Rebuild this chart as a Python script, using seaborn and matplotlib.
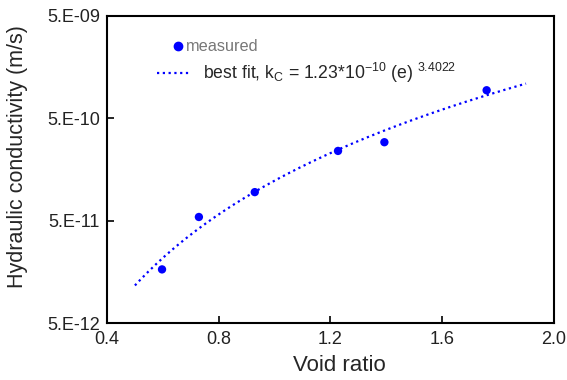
import numpy as np
import pandas as pd
import matplotlib
matplotlib.use("Agg")
import matplotlib.pyplot as plt
import seaborn as sns
from matplotlib.lines import Line2D

# Data
void_ratio = [0.597, 0.729, 0.929, 1.227, 1.393, 1.759]
hyd_cond = [1.67e-11, 5.43e-11, 9.5e-11, 2.4e-10, 2.92e-10, 9.4e-10]
fit_coef = 1.23e-10
fit_exp = 3.4022
fit_e_range = [0.5, 1.9]
x_ticks = [0.4, 0.8, 1.2, 1.6, 2.0]
x_tick_labels = ["0.4", "0.8", "1.2", "1.6", "2.0"]
y_ticks = [5e-12, 5e-11, 5e-10, 5e-9]
y_tick_labels = ["5.E-12", "5.E-11", "5.E-10", "5.E-09"]

sns.set_theme(style="white")
plt.rcParams['font.family'] = ['Liberation Sans', 'DejaVu Sans']

df = pd.DataFrame({"e": void_ratio, "k": hyd_cond})
e_fit = np.linspace(fit_e_range[0], fit_e_range[1], 200)
fit_df = pd.DataFrame({"e": e_fit, "k": fit_coef * e_fit ** fit_exp})

fig = plt.figure(figsize=(5.67, 3.8), dpi=100)
ax = fig.add_axes([0.1887, 0.15, 0.977 - 0.1887, 0.958 - 0.15])

sns.lineplot(data=fit_df, x="e", y="k", ax=ax, color="#0000FF",
             linestyle=(0, (1, 1.6)), linewidth=1.6)
sns.scatterplot(data=df, x="e", y="k", ax=ax, color="#0000FF", s=36,
                edgecolor="none", zorder=5)

ax.set_yscale("log")
ax.set_xlim(0.4, 2.0)
ax.set_ylim(5e-12, 5e-9)
ax.set_xticks(x_ticks)
ax.set_xticklabels(x_tick_labels)
ax.yaxis.set_major_locator(matplotlib.ticker.FixedLocator(y_ticks))
ax.yaxis.set_minor_locator(matplotlib.ticker.NullLocator())
ax.set_yticklabels(y_tick_labels)
ax.tick_params(direction="in", length=5, width=1.2, labelsize=13, colors="black",
               left=True, bottom=True)
ax.tick_params(axis="y", pad=5)
ax.tick_params(axis="x", pad=6)
for lbl in ax.get_xticklabels() + ax.get_yticklabels():
    lbl.set_color("#222222")

for s in ax.spines.values():
    s.set_color("black")
    s.set_linewidth(1.5)

ax.set_xlabel("Void ratio", fontsize=16)
ax.xaxis.set_label_coords(0.52, -0.105)
ax.set_ylabel("Hydraulic conductivity (m/s)", fontsize=15.5)
ax.yaxis.set_label_coords(-0.177, 0.542)

h1 = Line2D([], [], marker="o", color="#0000FF", linestyle="none", markersize=6)
leg1 = ax.legend([h1], ["measured"], loc="upper left", bbox_to_anchor=(0.13, 0.945),
                 frameon=False, handlelength=0.8, handletextpad=0.1,
                 borderaxespad=0, fontsize=11.7)
for t in leg1.get_texts():
    t.set_color("#777777")
ax.add_artist(leg1)

h2 = Line2D([], [], color="#0000FF", linestyle=(0, (1, 1.6)), linewidth=1.6)
leg2 = ax.legend([h2], [r"best fit, k$_\mathregular{C}$ = 1.23*10$^\mathregular{-10}$ (e) $^\mathregular{3.4022}$"],
                 loc="upper left", bbox_to_anchor=(0.097, 0.8765),
                 frameon=False, handlelength=1.9, handletextpad=0.7,
                 borderaxespad=0, fontsize=12.7)

fig.savefig("out.png", dpi=100)
